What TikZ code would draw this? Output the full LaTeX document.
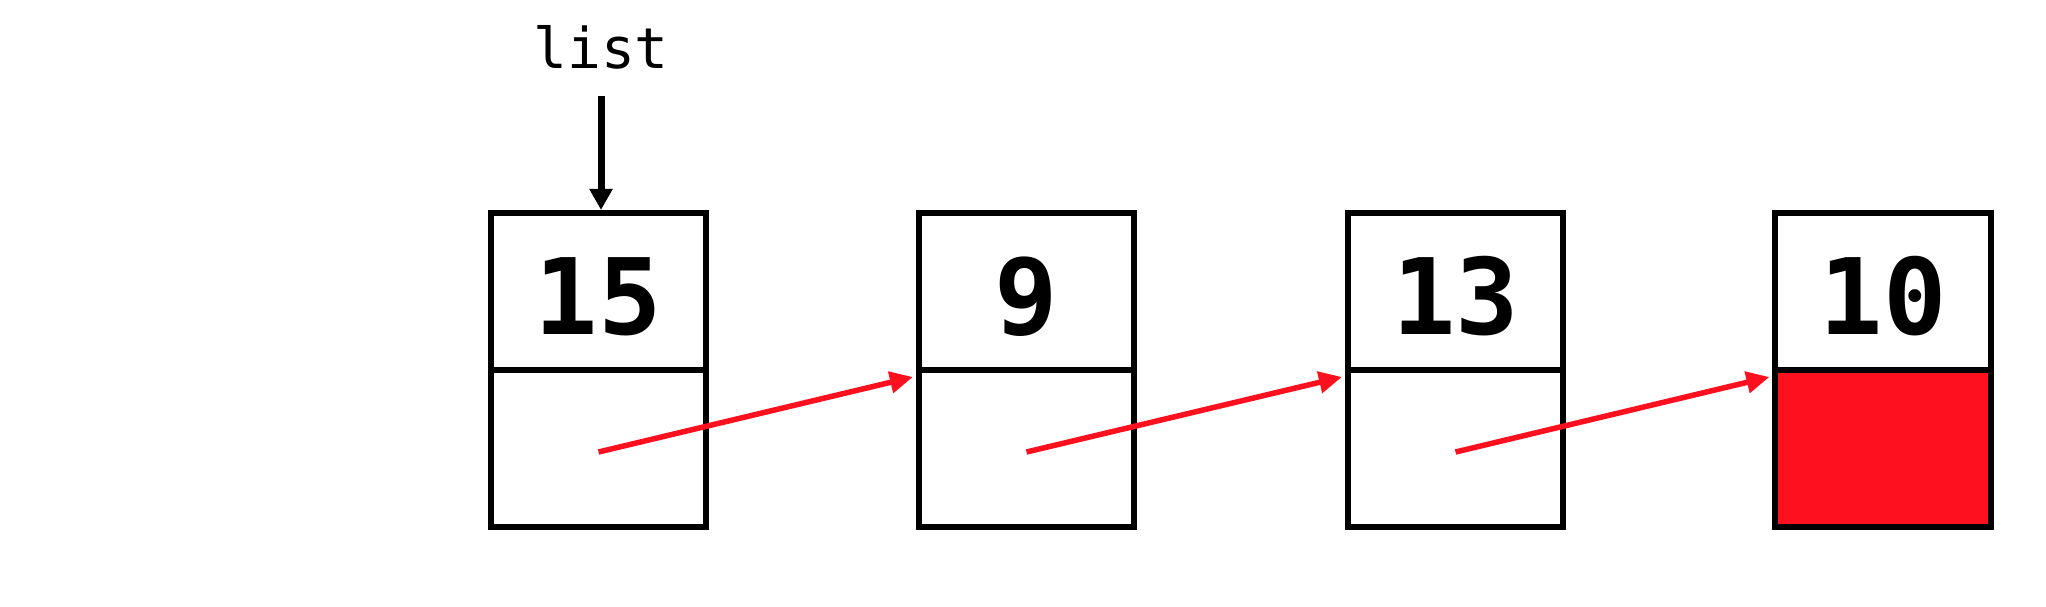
\documentclass[tikz,border=0pt]{standalone}
\usepackage{fontspec}
\newfontfamily\codefont{DejaVu Sans Mono}
\usetikzlibrary{arrows.meta,calc}
\definecolor{ptrred}{RGB}{255,16,30}
\tikzset{
  cell/.style={draw=black, line width=0.06cm, rectangle, minimum width=2.15cm, minimum height=1.57cm, inner sep=0pt},
  valcell/.style={cell, font=\codefont\bfseries\fontsize{30}{30}\selectfont, text height=0.85cm, text depth=0pt},
  nullcell/.style={cell, fill=ptrred},
  ptr/.style={draw=ptrred, line width=0.055cm, -{Triangle[length=0.23cm,width=0.21cm]}},
  headptr/.style={draw=black, line width=0.07cm, -{Triangle[length=0.21cm,width=0.22cm]}},
  lbl/.style={font=\codefont\fontsize{16}{16}\selectfont, inner sep=0pt, anchor=base}
}
\begin{document}
\begin{tikzpicture}[x=0.01cm,y=-0.01cm]
\useasboundingbox (0,0) rectangle (2046,606);
\node[lbl] (list) at (601,68) {list};
\node[valcell] (n1) at (598.5,291.5) {15};
\node[cell] (p1) at (598.5,448.5) {};
\node[valcell] (n2) at (1026.5,291.5) {9};
\node[cell] (p2) at (1026.5,448.5) {};
\node[valcell] (n3) at (1455.5,291.5) {13};
\node[cell] (p3) at (1455.5,448.5) {};
\node[valcell] (n4) at (1883,291.5) {10};
\node[nullcell] (p4) at (1883,448.5) {};
\draw[headptr] ([yshift=-0.26cm]list.south) -- (list.south |- n1.north);
\draw[ptr] ($(p1.center)+(0cm,-0.035cm)$) -- ($(p2.north west)+(-0.03cm,-0.10cm)$);
\draw[ptr] ($(p2.center)+(0cm,-0.035cm)$) -- ($(p3.north west)+(-0.03cm,-0.10cm)$);
\draw[ptr] ($(p3.center)+(0cm,-0.035cm)$) -- ($(p4.north west)+(-0.03cm,-0.10cm)$);
\end{tikzpicture}
\end{document}
